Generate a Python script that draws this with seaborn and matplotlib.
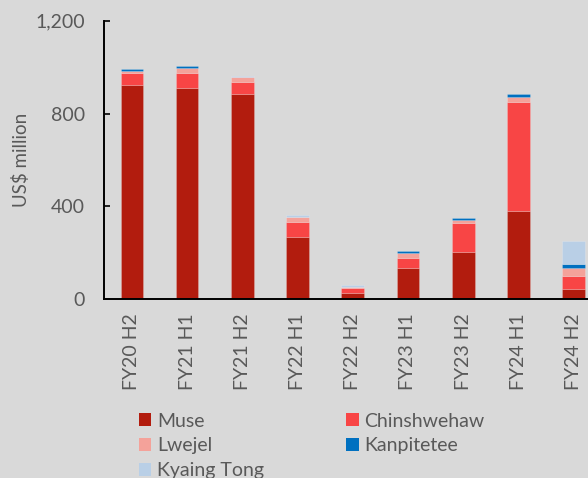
import matplotlib
matplotlib.use("Agg")
import matplotlib.pyplot as plt
from matplotlib.patches import Patch
import numpy as np
import pandas as pd
import seaborn as sns

periods = ["FY20 H2", "FY21 H1", "FY21 H2", "FY22 H1", "FY22 H2",
           "FY23 H1", "FY23 H2", "FY24 H1", "FY24 H2"]
muse = [924, 911, 885, 270, 28, 136, 205, 380, 46]
chinshwehaw = [52, 65, 52, 64, 19, 42, 125, 470, 54]
lwejel = [8, 20, 20, 22, 6, 23, 13, 21, 36]
kanpitetee = [10, 9, 0, 0, 0, 7, 8, 12, 17]
kyaing_tong = [0, 0, 6, 6, 8, 0, 0, 0, 98]

series_names = ["Muse", "Chinshwehaw", "Lwejel", "Kanpitetee", "Kyaing Tong"]
series_vals = [muse, chinshwehaw, lwejel, kanpitetee, kyaing_tong]
colors = ["#B21C0E", "#F84545", "#F4A29A", "#0070C0", "#B9CFE6"]

df = pd.DataFrame({"period": periods})
for n, v in zip(series_names, series_vals):
    df[n] = v

sns.set_theme(style="white")
plt.rcParams["font.family"] = ["Lato", "DejaVu Sans"]
txt = "#595959"
bg = "#D9D9D9"

fig = plt.figure(figsize=(5.88, 4.78), dpi=100, facecolor=bg)
ax = fig.add_axes([104.3 / 588, 1 - 299.3 / 478, 1 - 104.3 / 588, (299.3 - 20.7) / 478])
ax.set_facecolor(bg)

bottom = np.zeros(len(periods))
for n, c in zip(series_names, colors):
    sns.barplot(data=df, x="period", y=n, color=c, bottom=bottom, width=0.41,
                edgecolor=(1, 1, 1, 0.25), linewidth=0.5, saturation=1, ax=ax)
    bottom = bottom + df[n].to_numpy()
# hide zero-height segments
for p in ax.patches:
    if p.get_height() == 0:
        p.set_visible(False)

ax.set_xlim(-0.5, 8.26)
ax.set_ylim(0, 1200)
ax.set_yticks([0, 400, 800, 1200])
ax.set_yticklabels(["0", "400", "800", "1,200"])
ax.set_xlabel("")
ax.set_ylabel("US$ million", color=txt, fontsize=13.5, labelpad=4)
for s in ["top", "right"]:
    ax.spines[s].set_visible(False)
for s in ["left", "bottom"]:
    ax.spines[s].set_color("black")
    ax.spines[s].set_linewidth(1.4)
ax.tick_params(axis="y", direction="in", length=4.5, width=1.2, color="black",
               pad=14, labelsize=14, labelcolor=txt, left=True)
ax.tick_params(axis="x", length=0, pad=10, labelsize=14, labelcolor=txt, rotation=90)
for lab in ax.get_xticklabels():
    lab.set_va("top")

order = [0, 2, 4, 1, 3]
handles = [Patch(facecolor=colors[i], edgecolor="none", label=series_names[i]) for i in order]
fig.legend(handles=handles, ncol=2, loc="upper left", bbox_to_anchor=(129 / 588, 1 - 403 / 478),
           frameon=False, fontsize=14, handlelength=0.65, handleheight=0.65,
           handletextpad=0.3, columnspacing=4.2, labelspacing=0.4, borderpad=0,
           labelcolor=txt)

fig.savefig("out.png", dpi=100, facecolor=bg)
